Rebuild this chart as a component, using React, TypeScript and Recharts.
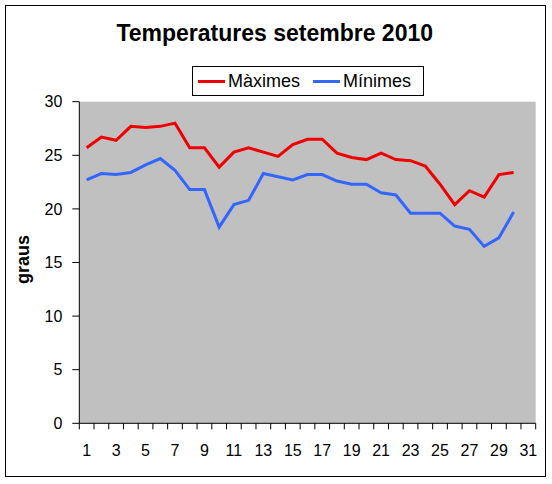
import { LineChart, Line, XAxis, YAxis, CartesianGrid, Legend } from "recharts";

const days = [1, 2, 3, 4, 5, 6, 7, 8, 9, 10, 11, 12, 13, 14, 15, 16, 17, 18, 19, 20, 21, 22, 23, 24, 25, 26, 27, 28, 29, 30, 31];
const maxTemps = [25.7, 26.7, 26.4, 27.7, 27.6, 27.7, 28.0, 25.7, 25.7, 23.9, 25.3, 25.7, 25.3, 24.9, 26.0, 26.5, 26.5, 25.2, 24.8, 24.6, 25.2, 24.6, 24.5, 24.0, 22.3, 20.4, 21.7, 21.1, 23.2, 23.4];
const minTemps = [22.7, 23.3, 23.2, 23.4, 24.1, 24.7, 23.6, 21.8, 21.8, 18.3, 20.4, 20.8, 23.3, 23.0, 22.7, 23.2, 23.2, 22.6, 22.3, 22.3, 21.5, 21.3, 19.6, 19.6, 19.6, 18.4, 18.1, 16.5, 17.3, 19.7];
const yTicks = [0, 5, 10, 15, 20, 25, 30];

const data = days.map((day, i) => ({
  day,
  max: maxTemps[i] ?? null,
  min: minTemps[i] ?? null,
}));

const FONT = "'Liberation Sans', Arial, sans-serif";
const W = 552;
const H = 484;
const margin = { top: 101.7, right: 16.3, left: 19.3, bottom: 20.7 };
const Y_AXIS_W = 60;
const X_AXIS_H = 40;
const PLOT_W = W - margin.left - margin.right - Y_AXIS_W;
const BAND = PLOT_W / days.length;

// Excel style: tick marks on category boundaries, labels on every other day
function DayTick(props: any) {
  const { x, y, payload, index } = props;
  const last = index === days.length - 1;
  return (
    <g>
      <line x1={x - BAND / 2} x2={x - BAND / 2} y1={y} y2={y + 6} stroke="#000" />
      {last && <line x1={x + BAND / 2} x2={x + BAND / 2} y1={y} y2={y + 6} stroke="#000" />}
      {payload.value % 2 === 1 && (
        <text x={x} y={y + 33} textAnchor="middle" fontSize={16} fontFamily={FONT} fill="#000">
          {payload.value}
        </text>
      )}
    </g>
  );
}

function LegendBox(props: any) {
  const { payload = [] } = props;
  return (
    <div
      style={{
        boxSizing: "border-box",
        width: 232,
        height: 30,
        border: "1px solid #000",
        background: "#fff",
        display: "flex",
        alignItems: "center",
        paddingLeft: 5,
        paddingTop: 1,
        fontFamily: FONT,
        fontSize: 18,
        color: "#000",
      }}
    >
      {payload.map((p: any, i: number) => (
        <span key={p.value} style={{ display: "flex", alignItems: "center", marginRight: i === 0 ? 13 : 0 }}>
          <span style={{ display: "inline-block", width: 27, height: 3, background: p.color, marginRight: 3 }} />
          {p.value}
        </span>
      ))}
    </div>
  );
}

export default function App() {
  return (
    <div style={{ position: "absolute", left: 0, top: 0, width: W, height: H, background: "#fff" }}>
      <div
        style={{
          position: "absolute",
          left: 5,
          top: 5,
          width: 541,
          height: 472,
          boxSizing: "border-box",
          border: "1px solid #000",
        }}
      />
      <div
        style={{
          position: "absolute",
          left: 0,
          top: 22.2,
          width: 549.4,
          textAlign: "center",
          fontFamily: FONT,
          fontWeight: "bold",
          fontSize: 23,
          lineHeight: "23px",
          color: "#000",
        }}
      >
        Temperatures setembre 2010
      </div>
      <LineChart width={W} height={H} data={data} margin={margin}>
        <CartesianGrid horizontal={false} vertical={false} fill="#C0C0C0" />
        <XAxis
          dataKey="day"
          scale="band"
          height={X_AXIS_H}
          interval={0}
          tickLine={false}
          tickSize={0}
          tickMargin={0}
          axisLine={{ stroke: "#000" }}
          tick={<DayTick />}
        />
        <XAxis
          xAxisId="top"
          dataKey="day"
          orientation="top"
          height={0}
          tick={false}
          tickLine={false}
          axisLine={{ stroke: "#808080" }}
        />
        <YAxis
          width={Y_AXIS_W}
          domain={[0, 30]}
          ticks={yTicks}
          interval={0}
          tickSize={7}
          tickMargin={10}
          tickLine={{ stroke: "#000" }}
          axisLine={{ stroke: "#000" }}
          tick={{ fill: "#000", fontSize: 16, fontFamily: FONT }}
          label={({ viewBox }: any) => (
            <text
              x={viewBox.x + 4}
              y={viewBox.y + viewBox.height / 2 - 3}
              transform={`rotate(-90, ${viewBox.x + 4}, ${viewBox.y + viewBox.height / 2 - 3})`}
              textAnchor="middle"
              dominantBaseline="central"
              fontSize={18}
              fontWeight="bold"
              fontFamily={FONT}
              fill="#000"
            >
              graus
            </text>
          )}
        />
        <YAxis
          yAxisId="right"
          orientation="right"
          width={0}
          domain={[0, 30]}
          tick={false}
          tickLine={false}
          axisLine={{ stroke: "#808080" }}
        />
        <Legend
          layout="horizontal"
          verticalAlign="middle"
          align="center"
          content={<LegendBox />}
          wrapperStyle={{ top: 66, left: 192, width: 232, height: 30 }}
        />
        <Line
          type="linear"
          dataKey="max"
          name="Màximes"
          stroke="#F00000"
          strokeWidth={3}
          dot={false}
          isAnimationActive={false}
        />
        <Line
          type="linear"
          dataKey="min"
          name="Mínimes"
          stroke="#3366FF"
          strokeWidth={3}
          dot={false}
          isAnimationActive={false}
        />
      </LineChart>
    </div>
  );
}
